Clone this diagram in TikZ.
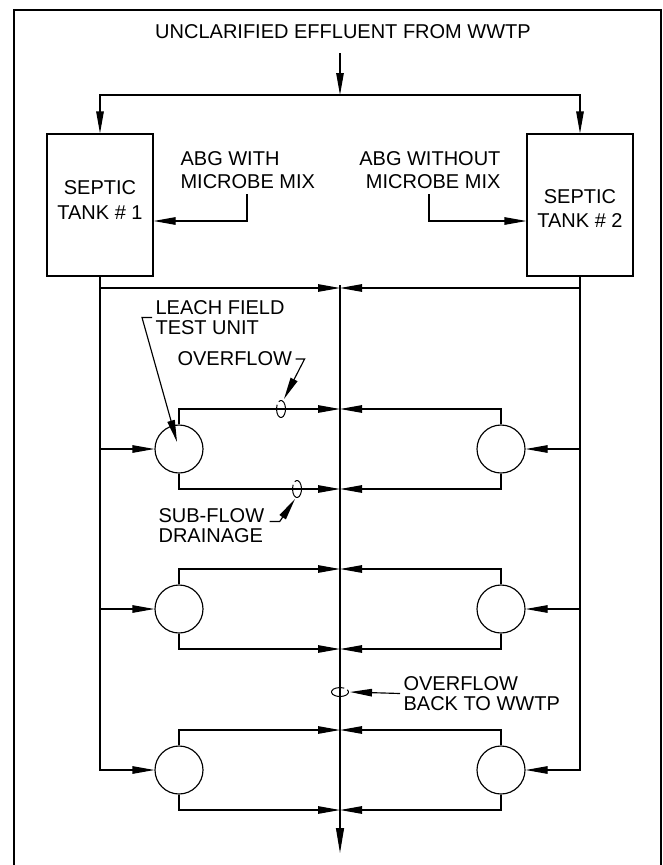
\documentclass[tikz,border=0pt]{standalone}
\usepackage{fontspec}
\setmainfont{Liberation Sans}
\usetikzlibrary{arrows.meta}
\begin{document}
\begin{tikzpicture}[x=1pt,y=-1pt, line width=1.15pt,
  arr/.style={-{Triangle[length=22pt,width=7.5pt]}},
  bigarr/.style={-{Triangle[length=25pt,width=8pt]}},
  lbl/.style={inner sep=0pt, font=\fontsize{20}{23}\selectfont},
  tank/.style={draw, minimum width=106pt, minimum height=142pt, inner sep=0pt},
  unit/.style={draw, circle, minimum size=48pt, inner sep=0pt},
  ring/.style={line width=1pt}]
\useasboundingbox (0,0) rectangle (663,865);
% frame
\draw (14,870) -- (14,10) -- (661,10) -- (661,870);

% title and tanks
\node[lbl] (title) at (343,32) {UNCLARIFIED EFFLUENT FROM WWTP};
\node[tank] (t1) at (100,205) {};
\node[tank] (t2) at (580,205) {};
\node[lbl, align=center, font=\fontsize{20}{25}\selectfont] (t1txt) at (100,200.5) {SEPTIC\\TANK \# 1};
\node[lbl, align=center, font=\fontsize{20}{24}\selectfont] (t2txt) at (580,209) {SEPTIC\\TANK \# 2};
\node[lbl, align=left, anchor=west] (abg1) at (180,170.5) {ABG WITH\\MICROBE MIX};
\node[lbl, align=right, anchor=east] (abg2) at (501,170.5) {ABG WITHOUT\\MICROBE MIX};

% leach field units
\node[unit] (L1) at (179,449) {};
\node[unit] (L2) at (179,609) {};
\node[unit] (L3) at (179,770) {};
\node[unit] (R1) at (501,449) {};
\node[unit] (R2) at (501,609) {};
\node[unit] (R3) at (501,770) {};

% labels
\node[lbl, align=left, anchor=west, font=\fontsize{20}{19.5}\selectfont] (lft) at (155,317.5) {LEACH FIELD\\TEST UNIT};
\node[lbl, anchor=west] (ovf) at (177,359) {OVERFLOW};
\node[lbl, align=left, anchor=west, font=\fontsize{20}{19.5}\selectfont] (sfd) at (158,525.5) {SUB-FLOW\\DRAINAGE};
\node[lbl, align=left, anchor=west, font=\fontsize{20}{19.5}\selectfont] (obw) at (403,693.5) {OVERFLOW\\BACK TO WWTP};

% coordinates
\coordinate (tstart) at (340,53);
\coordinate (tsplit) at (340,95);
\coordinate (abg1d) at (247,194);
\coordinate (abg2d) at (429,194);
\coordinate (ctop) at (340,285);
\coordinate (cj) at (340,288);
\coordinate (r1t) at (340,409);
\coordinate (r1b) at (340,489);
\coordinate (r2t) at (340,569);
\coordinate (r2b) at (340,649);
\coordinate (r3t) at (340,730);
\coordinate (r3b) at (340,810);
\coordinate (cend) at (340,853);
\coordinate (mk1) at (281,409);
\coordinate (mk2) at (297,489);
\coordinate (mk3) at (340,692);

% inflow
\draw[arr] (tstart) -- (tsplit);
\draw[arr] (tsplit) -| (t1.north);
\draw[arr] (tsplit) -| (t2.north);
\draw[arr] (abg1d) |- ([yshift=-16pt]t1.east);
\draw[arr] (abg2d) |- ([yshift=-16pt]t2.west);

% centre collector
\draw[bigarr] (ctop) -- (cend);

% tank trunks
\draw[arr] (t1.south) |- (cj);
\draw[arr] (t2.south) |- (cj);
\draw[arr] (t1.south) |- (L3.west);
\draw[arr] (t2.south) |- (R3.east);
\draw[arr] (t1.south |- L1.west) -- (L1.west);
\draw[arr] (t1.south |- L2.west) -- (L2.west);
\draw[arr] (t2.south |- R1.east) -- (R1.east);
\draw[arr] (t2.south |- R2.east) -- (R2.east);

% unit outlets
\draw[arr] (L1.north) |- (r1t);
\draw[arr] (L1.south) |- (r1b);
\draw[arr] (L2.north) |- (r2t);
\draw[arr] (L2.south) |- (r2b);
\draw[arr] (L3.north) |- (r3t);
\draw[arr] (L3.south) |- (r3b);
\draw[arr] (R1.north) |- (r1t);
\draw[arr] (R1.south) |- (r1b);
\draw[arr] (R2.north) |- (r2t);
\draw[arr] (R2.south) |- (r2b);
\draw[arr] (R3.north) |- (r3t);
\draw[arr] (R3.south) |- (r3b);

% sampling rings
\draw[ring] (mk1) ++(-120:4.5 and 8.5) arc[start angle=-120, end angle=210, x radius=4.5, y radius=8.5];
\draw[ring] (mk2) ++(-120:4.5 and 8.5) arc[start angle=-120, end angle=210, x radius=4.5, y radius=8.5];
\draw[ring] (mk3) ++(-30:8.5 and 4.5) arc[start angle=-30, end angle=300, x radius=8.5, y radius=4.5];

% leaders
\draw[arr] ([xshift=-3pt]lft.west) -- ++(-10,0) -- ([shift={(-2,-7)}]L1.center);
\draw[arr] ([xshift=3pt]ovf.east) -- ++(9,0) -- ([shift={(3,-10)}]mk1);
\draw[arr] ([shift={(5,-4)}]sfd.east) -- ++(10,0) -- ([shift={(-2,10)}]mk2);
\draw[arr] ([xshift=-3pt]obw.west) -- ([xshift=10]mk3);
\end{tikzpicture}
\end{document}
